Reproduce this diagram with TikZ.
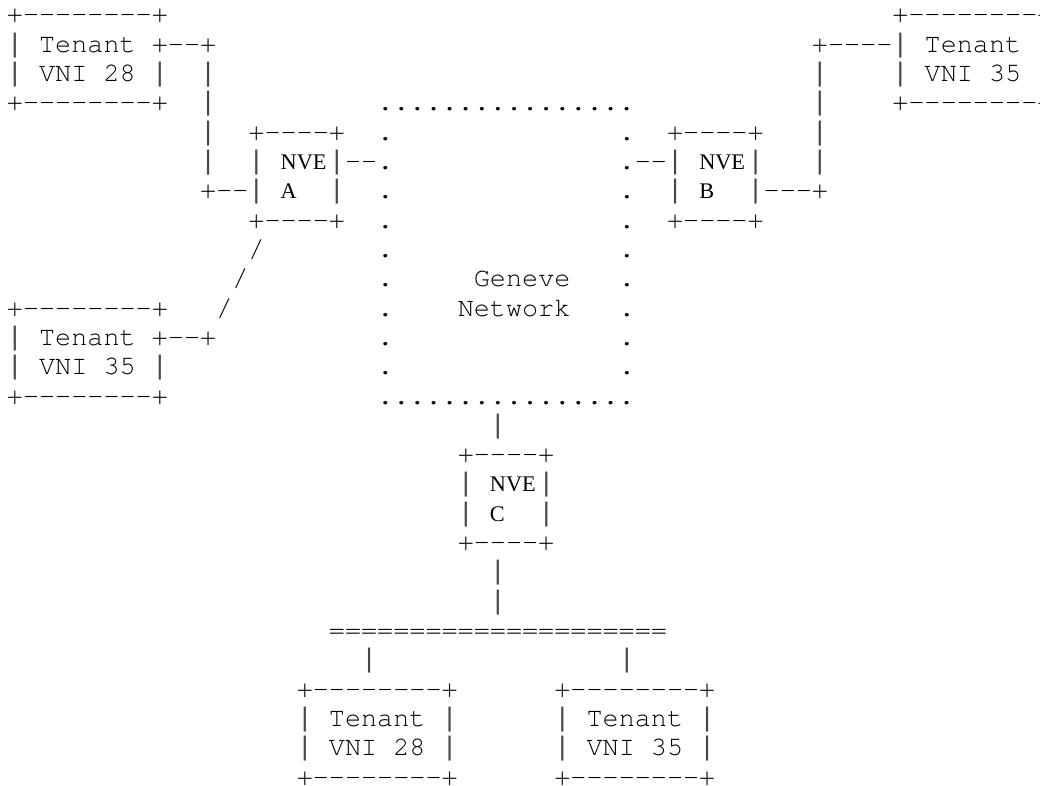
\documentclass[tikz,border=0pt]{standalone}
\usepackage{fontspec}
\setmonofont{texgyrecursor-regular.otf}
\newfontfamily\nvefont{Liberation Serif}
\newfontfamily\barfont{Liberation Mono}
\newcommand\vb{{\barfont\color{black!72}|}}
\tikzset{
  ch/.style={anchor=base west, inner sep=0pt, outer sep=0pt,
    font=\ttfamily\fontsize{26.83}{29.33}\selectfont},
  lbl/.style={anchor=base west, inner sep=0pt, outer sep=0pt,
    font=\nvefont\fontsize{22.3}{24}\selectfont},
}
\newcommand\putrun[4]{\node[ch] (#1) at ({6.95+16.1*#3},{22.7+29.33*(#2-1)}) {#4};}
\newcommand\putlbl[4]{\node[lbl] (#1) at ({6.95+16.1*#3},{22.7+29.33*(#2-1)}) {#4};}
\begin{document}
\begin{tikzpicture}[x=1pt,y=-1pt]
\useasboundingbox (0,0) rectangle (1040,785);
\clip (0,0) rectangle (1040,785);
% row 1
\putrun{ra1}{1}{0}{+--------+}
\putrun{rb1}{1}{55}{+--------+}
% row 2
\putrun{ra2}{2}{0}{\vb{} Tenant +--+}
\putrun{rb2}{2}{50}{+----\vb{} Tenant \vb}
% row 3
\putrun{ra3}{3}{0}{\vb{} VNI 28 \vb}
\putrun{vl3}{3}{12}{\vb}
\putrun{vr3}{3}{50}{\vb}
\putrun{rb3}{3}{55}{\vb{} VNI 35 \vb}
% row 4
\putrun{ra4}{4}{0}{+--------+}
\putrun{vl4}{4}{12}{\vb}
\putrun{dtop}{4}{23}{................}
\putrun{vr4}{4}{50}{\vb}
\putrun{rb4}{4}{55}{+--------+}
% row 5
\putrun{vl5}{5}{12}{\vb}
\putrun{nva1}{5}{15}{+----+}
\putrun{nvb1}{5}{41}{+----+}
\putrun{vr5}{5}{50}{\vb}
% row 6
\putrun{vl6}{6}{12}{\vb}
\putrun{nva2}{6}{15}{\vb}
\putlbl{nvaname}{6}{17}{NVE}
\putrun{nva3}{6}{20}{\vb--.}
\putrun{nvb2}{6}{38}{.--\vb}
\putlbl{nvbname}{6}{43}{NVE}
\putrun{nvb3}{6}{46}{\vb}
\putrun{vr6}{6}{50}{\vb}
% row 7
\putrun{vl7}{7}{12}{+--\vb}
\putlbl{nvaid}{7}{17}{A}
\putrun{nva4}{7}{20}{\vb}
\putrun{nvb4}{7}{41}{\vb}
\putlbl{nvbid}{7}{43}{B}
\putrun{nvb5}{7}{46}{\vb---+}
% row 8
\putrun{nva5}{8}{15}{+----+}
\putrun{nvb6}{8}{41}{+----+}
% dotted sides of the network
\foreach \r in {5,7,8,9,10,11,12,13}{
  \putrun{dl\r}{\r}{23}{.}
  \putrun{dr\r}{\r}{38}{.}
}
% slashes
\putrun{sl1}{9}{15}{/}
\putrun{sl2}{10}{14}{/}
\putrun{sl3}{11}{13}{/}
% network label
\putrun{gen1}{10}{29}{Geneve}
\putrun{gen2}{11}{28}{Network}
% lower left tenant
\putrun{ta1}{11}{0}{+--------+}
\putrun{ta2}{12}{0}{\vb{} Tenant +--+}
\putrun{ta3}{13}{0}{\vb{} VNI 35 \vb}
\putrun{ta4}{14}{0}{+--------+}
\putrun{dbot}{14}{23}{................}
% NVE C
\putrun{vc1}{15}{30}{\vb}
\putrun{nvc1}{16}{28}{+----+}
\putrun{nvc2}{17}{28}{\vb}
\putlbl{nvcname}{17}{30}{NVE}
\putrun{nvc3}{17}{33}{\vb}
\putrun{nvc4}{18}{28}{\vb}
\putlbl{nvcid}{18}{30}{C}
\putrun{nvc5}{18}{33}{\vb}
\putrun{nvc6}{19}{28}{+----+}
\putrun{vc2}{20}{30}{\vb}
\putrun{vc3}{21}{30}{\vb}
% bus
\putrun{bus}{22}{20}{=====================}
\putrun{bl}{23}{22}{\vb}
\putrun{br}{23}{38}{\vb}
% bottom tenants
\putrun{tb1}{24}{18}{+--------+}
\putrun{tb2}{25}{18}{\vb{} Tenant \vb}
\putrun{tb3}{26}{18}{\vb{} VNI 28 \vb}
\putrun{tb4}{27}{18}{+--------+}
\putrun{tc1}{24}{34}{+--------+}
\putrun{tc2}{25}{34}{\vb{} Tenant \vb}
\putrun{tc3}{26}{34}{\vb{} VNI 35 \vb}
\putrun{tc4}{27}{34}{+--------+}
\end{tikzpicture}
\end{document}
